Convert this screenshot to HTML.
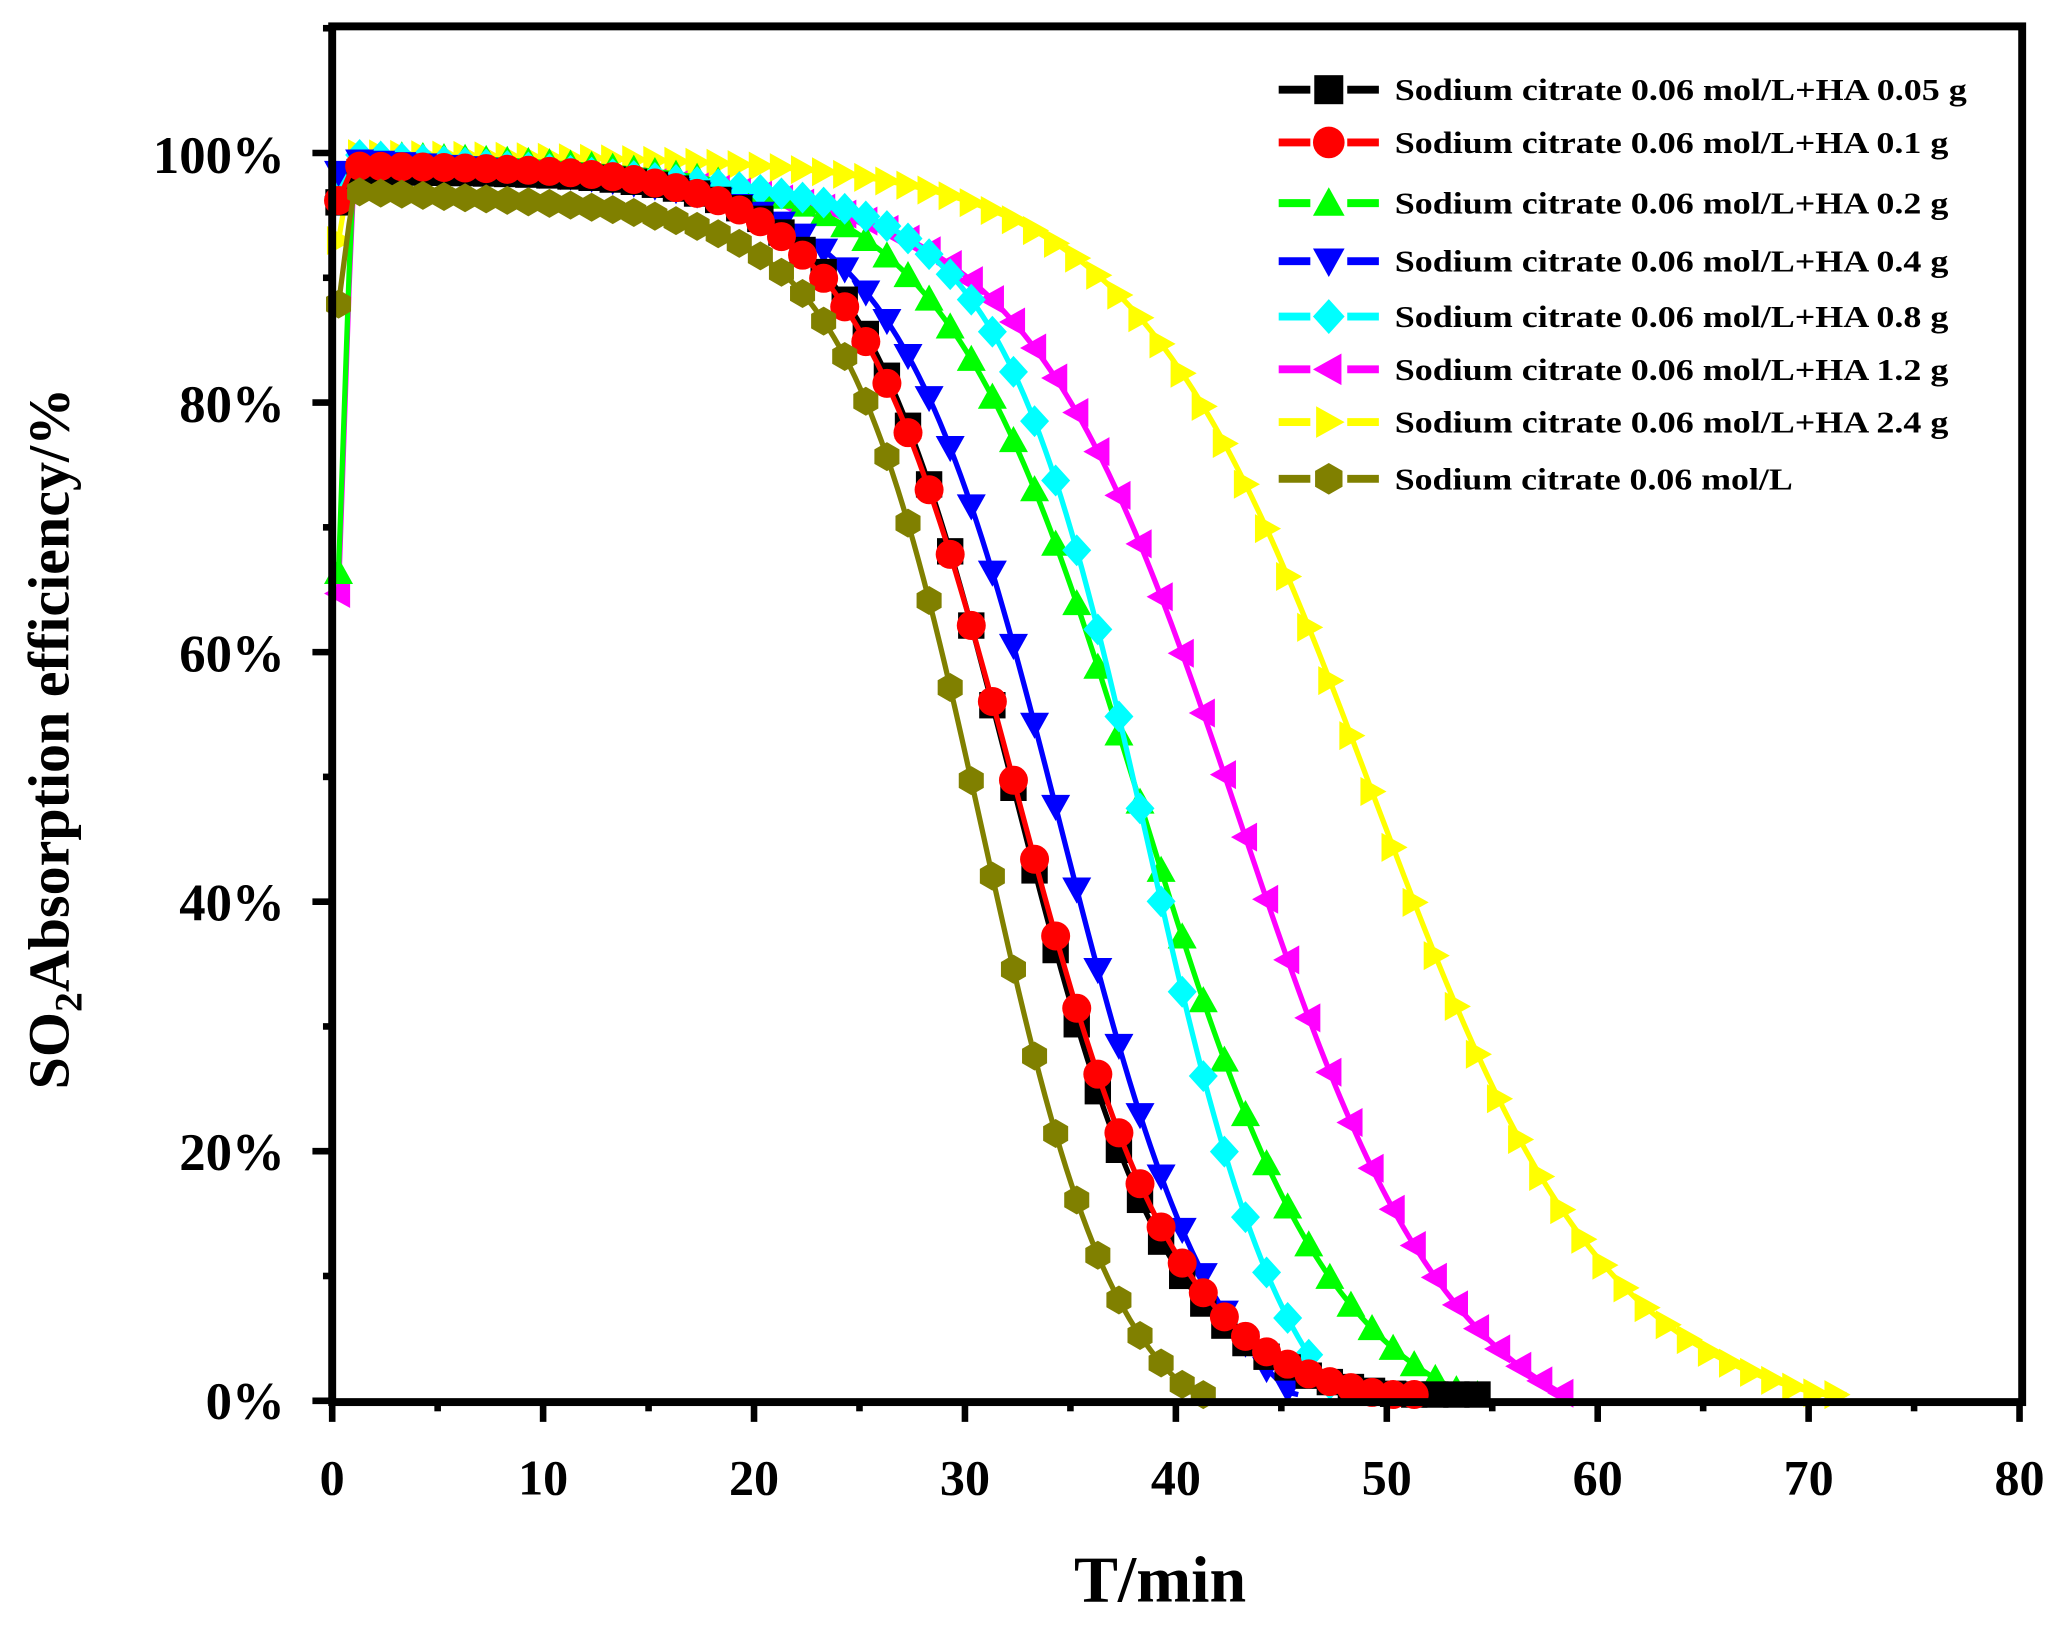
<!DOCTYPE html>
<html><head><meta charset="utf-8"><style>html,body{margin:0;padding:0;background:#fff}svg{display:block}</style></head>
<body>
<svg id="s" width="2067" height="1625" viewBox="0 0 1568 1232" preserveAspectRatio="none" xmlns="http://www.w3.org/2000/svg" font-family="'Liberation Serif',serif" font-weight="bold">
<g id="curves"></g>
<rect x="252" y="20" width="1282" height="1043" fill="none" stroke="#000" stroke-width="6"/>
<g id="ticks" stroke="#000" stroke-width="5"></g>
<g font-size="40" text-anchor="end">
<text x="216" y="131">100%</text><text x="216" y="320">80%</text><text x="216" y="509">60%</text>
<text x="216" y="698">40%</text><text x="216" y="887">20%</text><text x="216" y="1076">0%</text>
</g>
<g font-size="38" text-anchor="middle">
<text x="252" y="1133">0</text><text x="412" y="1133">10</text><text x="572" y="1133">20</text><text x="732" y="1133">30</text><text x="892" y="1133">40</text><text x="1052" y="1133">50</text><text x="1212" y="1133">60</text><text x="1372" y="1133">70</text><text x="1532" y="1133">80</text>
</g>
<text x="880" y="1214" font-size="50" text-anchor="middle">T/min</text>
<text transform="translate(52,560) rotate(-90)" font-size="44" text-anchor="middle">SO<tspan font-size="30" dy="10">2</tspan><tspan dy="-10">Absorption efficiency/%</tspan></text>
<g id="legend" font-size="23"></g>
</svg>
<script>
var X=function(t){return 252+16*t},Y=function(v){return 1062-9.46*v};
var ser=[
{c:"#ffff00",m:"tr",A:100,t50:49.3,s:5.6,end:72,y0:90},
{c:"#ff00ff",m:"tl",A:99,t50:43,s:5,end:59,y0:50},
{c:"#00ff00",m:"tu",A:100,t50:38.3,s:4.6,end:54.5,y0:52},
{c:"#00ffff",m:"d",A:100,t50:38.6,s:3.4,end:48,y0:95},
{c:"#0000ff",m:"td",A:99.5,t50:34.5,s:3.8,end:46,y0:98},
{c:"#000000",m:"sq",A:98.5,t50:32.3,s:3.7,end:55,y0:95},
{c:"#ff0000",m:"ci",A:99,t50:32.4,s:3.9,end:52,y0:95},
{c:"#808000",m:"hx",A:97,t50:30.8,s:3.2,end:41.3,y0:84}
];
function mk(m,x,y,c,r){r=r||11;var p;
 if(m=="sq")return '<rect x="'+(x-r+1)+'" y="'+(y-r+1)+'" width="'+(2*r-2)+'" height="'+(2*r-2)+'" fill="'+c+'"/>';
 if(m=="ci")return '<circle cx="'+x+'" cy="'+y+'" r="'+r+'" fill="'+c+'"/>';
 if(m=="tu")p=[[x,y-r],[x+r,y+r*0.8],[x-r,y+r*0.8]];
 if(m=="td")p=[[x,y+r],[x+r,y-r*0.8],[x-r,y-r*0.8]];
 if(m=="tl")p=[[x-r,y],[x+r*0.8,y-r],[x+r*0.8,y+r]];
 if(m=="tr")p=[[x+r,y],[x-r*0.8,y-r],[x-r*0.8,y+r]];
 if(m=="d")p=[[x,y-r*1.1],[x+r,y],[x,y+r*1.1],[x-r,y]];
 if(m=="hx"){p=[];for(var i=0;i<6;i++){var a=Math.PI/6+i*Math.PI/3;p.push([x+r*Math.cos(a),y+r*Math.sin(a)]);}}
 return '<polygon points="'+p.map(function(q){return q[0].toFixed(1)+','+q[1].toFixed(1)}).join(' ')+'" fill="'+c+'"/>';}
var h='';
ser.forEach(function(S){
 var f=function(t){var v=S.A/(1+Math.exp((t-S.t50)/S.s));var tail=S.A/(1+Math.exp((S.end-S.t50)/S.s));v=v-tail*(t/S.end);if(t<1)v=S.y0+(v-S.y0)*t;return Math.max(v,0.5);};
 var pts=[];for(var t=0.3;t<=S.end+0.001;t+=0.25)pts.push(X(t).toFixed(1)+','+Y(f(t)).toFixed(1));
 h+='<polyline points="'+pts.join(' ')+'" fill="none" stroke="'+S.c+'" stroke-width="4"/>';
 for(var t=0.3;t<=S.end;t+=1)h+=mk(S.m,X(t),Y(f(t)),S.c);
});
document.getElementById('curves').innerHTML=h;
var tk='';
for(var t=0;t<=80;t+=5){var x=X(t);tk+='<line x1="'+x+'" y1="1063" x2="'+x+'" y2="'+(t%10?1070:1078)+'"/>';}
for(var v=0;v<=110;v+=10){var y=Y(v);tk+='<line x1="252" y1="'+y+'" x2="'+(v%20?245:237)+'" y2="'+y+'"/>';}
document.getElementById('ticks').innerHTML=tk;
var lab=["Sodium citrate 0.06 mol/L+HA 0.05 g","Sodium citrate 0.06 mol/L+HA 0.1 g","Sodium citrate 0.06 mol/L+HA 0.2 g","Sodium citrate 0.06 mol/L+HA 0.4 g","Sodium citrate 0.06 mol/L+HA 0.8 g","Sodium citrate 0.06 mol/L+HA 1.2 g","Sodium citrate 0.06 mol/L+HA 2.4 g","Sodium citrate 0.06 mol/L"];
var ord=[5,6,2,4,3,1,0,7],ys=[68,108,154,198,240,280,320,363],lens=[434,420,420,420,420,420,420,302];
var lg='';
for(var i=0;i<8;i++){var S=ser[ord[i]],y=ys[i];
 lg+='<line x1="970" y1="'+y+'" x2="994" y2="'+y+'" stroke="'+S.c+'" stroke-width="6"/><line x1="1022" y1="'+y+'" x2="1046" y2="'+y+'" stroke="'+S.c+'" stroke-width="6"/>'+mk(S.m,1008,y,S.c,12);
 lg+='<text x="1058" y="'+(y+8)+'" textLength="'+lens[i]+'" lengthAdjust="spacingAndGlyphs">'+lab[i]+'</text>';}
document.getElementById('legend').innerHTML=lg;
</script>
</body></html>
